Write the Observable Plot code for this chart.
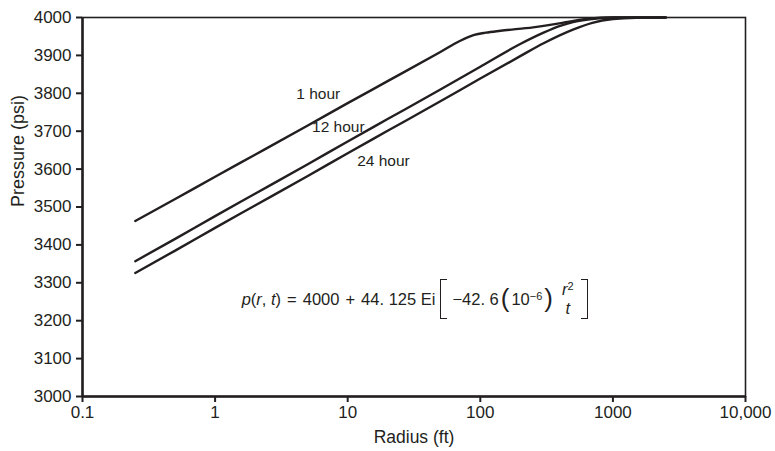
<!DOCTYPE html>
<html>
<head>
<meta charset="utf-8">
<script src="https://cdn.jsdelivr.net/npm/d3@7"></script>
<script src="https://cdn.jsdelivr.net/npm/@observablehq/plot@0.6"></script>
<style>
  html, body { margin: 0; padding: 0; background: #fff; }
  #chart { position: relative; width: 775px; height: 451px; font-family: "Liberation Sans", Arial, sans-serif; color: #231f20; }
  .eq { position: absolute; display: flex; align-items: center; font-size: 16.5px; white-space: nowrap; transform: translate(0, -50%); }
  .eq i { font-style: italic; }
  .eq .op { margin: 0 6px; }
  .eq .br { display: inline-block; width: 6px; height: 38px; border: 1.4px solid #231f20; margin: 0 5px; }
  .eq .br.l { border-right: none; }
  .eq .br.r { border-left: none; margin-left: 6px; }
  .eq .big { font-size: 26px; font-weight: 300; line-height: 1; margin: 0 2px; transform: translateY(-1px); }
  .eq sup { font-size: 11px; line-height: 0; vertical-align: 0.5em; }
  .eq .frac { display: inline-flex; flex-direction: column; align-items: center; margin-left: 6px; line-height: 1.15; }
  .eq .frac .num { padding: 0 1px; }
</style>
</head>
<body>
<div id="chart"></div>
<script>
// ---- data ----
const radius1h = [0.25, 0.5, 1, 2, 5, 10, 20, 50, 70, 90, 110, 142, 250, 456, 650, 1000, 2500];
const pressure1h = [3463, 3521, 3580, 3638, 3715, 3774, 3832, 3909, 3938, 3954, 3960, 3965, 3974, 3988, 3997, 4000, 4000];

const radius12h = [0.25, 0.5, 1, 2, 5, 10, 20, 50, 100, 200, 300, 400, 500, 700, 1000, 2500];
const pressure12h = [3357, 3416, 3476, 3535, 3613, 3673, 3732, 3810, 3870, 3930, 3960, 3978, 3988, 3996, 4000, 4000];

const radius24h = [0.25, 0.5, 1, 2, 5, 10, 20, 50, 100, 200, 300, 500, 700, 1000, 1500, 2500];
const pressure24h = [3326, 3385, 3445, 3504, 3582, 3642, 3701, 3779, 3839, 3898, 3932, 3968, 3986, 3996, 3999.5, 4000];

const seriesNames = ["1 hour", "12 hour", "24 hour"];
const labelRadius = [6.0, 8.5, 18.6];
const labelPressure = [3799, 3712, 3620];

const xTicks = [0.1, 1, 10, 100, 1000, 10000];
const xTickLabels = ["0.1", "1", "10", "100", "1000", "10,000"];
const yTicks = [3000, 3100, 3200, 3300, 3400, 3500, 3600, 3700, 3800, 3900, 4000];

const eqPosition = {r: 1.6, p: 3255}; // annotation anchor in data units

// ---- build rows ----
const rows = [];
[[radius1h, pressure1h], [radius12h, pressure12h], [radius24h, pressure24h]].forEach(([rs, ps], i) => {
  rs.forEach((r, j) => rows.push({series: seriesNames[i], r, p: ps[j]}));
});
const labels = seriesNames.map((s, i) => ({s, r: labelRadius[i], p: labelPressure[i]}));

const ink = "#231f20";
const chart = Plot.plot({
  width: 775,
  height: 451,
  marginLeft: 82,
  marginRight: 30,
  marginTop: 17,
  marginBottom: 55,
  style: {fontFamily: "'Liberation Sans', Arial, sans-serif", fontSize: "17px", color: ink, background: "#fff", overflow: "visible"},
  x: {type: "log", domain: [0.1, 10000]},
  y: {domain: [3000, 4000]},
  marks: [
    Plot.frame({stroke: ink, strokeWidth: 1.6}),
    Plot.axisX({ticks: xTicks, tickFormat: d => xTickLabels[xTicks.indexOf(d)], tickSize: 6, tickPadding: 3, strokeWidth: 2,
      label: null, fontSize: 17}),
    Plot.axisY({ticks: yTicks, tickFormat: d => String(d), tickSize: 6, tickPadding: 5, strokeWidth: 2,
      label: null, fontSize: 17}),
    Plot.text(["Radius (ft)"], {frameAnchor: "bottom", dy: 46, text: d => d, fill: ink, fontSize: 17.5}),
    Plot.text(["Pressure (psi)"], {frameAnchor: "left", dx: -64, rotate: -90, text: d => d, fill: ink, fontSize: 18}),
    Plot.ruleX([0.1], {stroke: ink, strokeWidth: 2.5}),
    Plot.ruleY([3000], {stroke: ink, strokeWidth: 2.5}),
    Plot.line(rows, {x: "r", y: "p", z: "series", stroke: ink, strokeWidth: 2.4, curve: "monotone-x"}),
    Plot.text(labels, {x: "r", y: "p", text: "s", fill: ink, fontSize: 15.5})
  ]
});
const container = document.getElementById("chart");
container.appendChild(chart);

// formula annotation positioned via the chart's scales
const xs = chart.scale("x"), ys = chart.scale("y");
const eq = document.createElement("div");
eq.className = "eq";
eq.style.left = xs.apply(eqPosition.r) + "px";
eq.style.top = ys.apply(eqPosition.p) + "px";
eq.innerHTML = '<span><i>p</i>(<i>r</i>, <i>t</i>)</span><span class="op">=</span><span>4000</span><span class="op">+</span><span>44. 125 Ei</span>' +
  '<span class="br l"></span><span>−42. 6</span><span class="big">(</span><span>10<sup>−6</sup></span><span class="big">)</span>' +
  '<span class="frac"><span class="num"><i>r</i><sup>2</sup></span><span><i>t</i></span></span><span class="br r"></span>';
container.appendChild(eq);
</script>
</body>
</html>
